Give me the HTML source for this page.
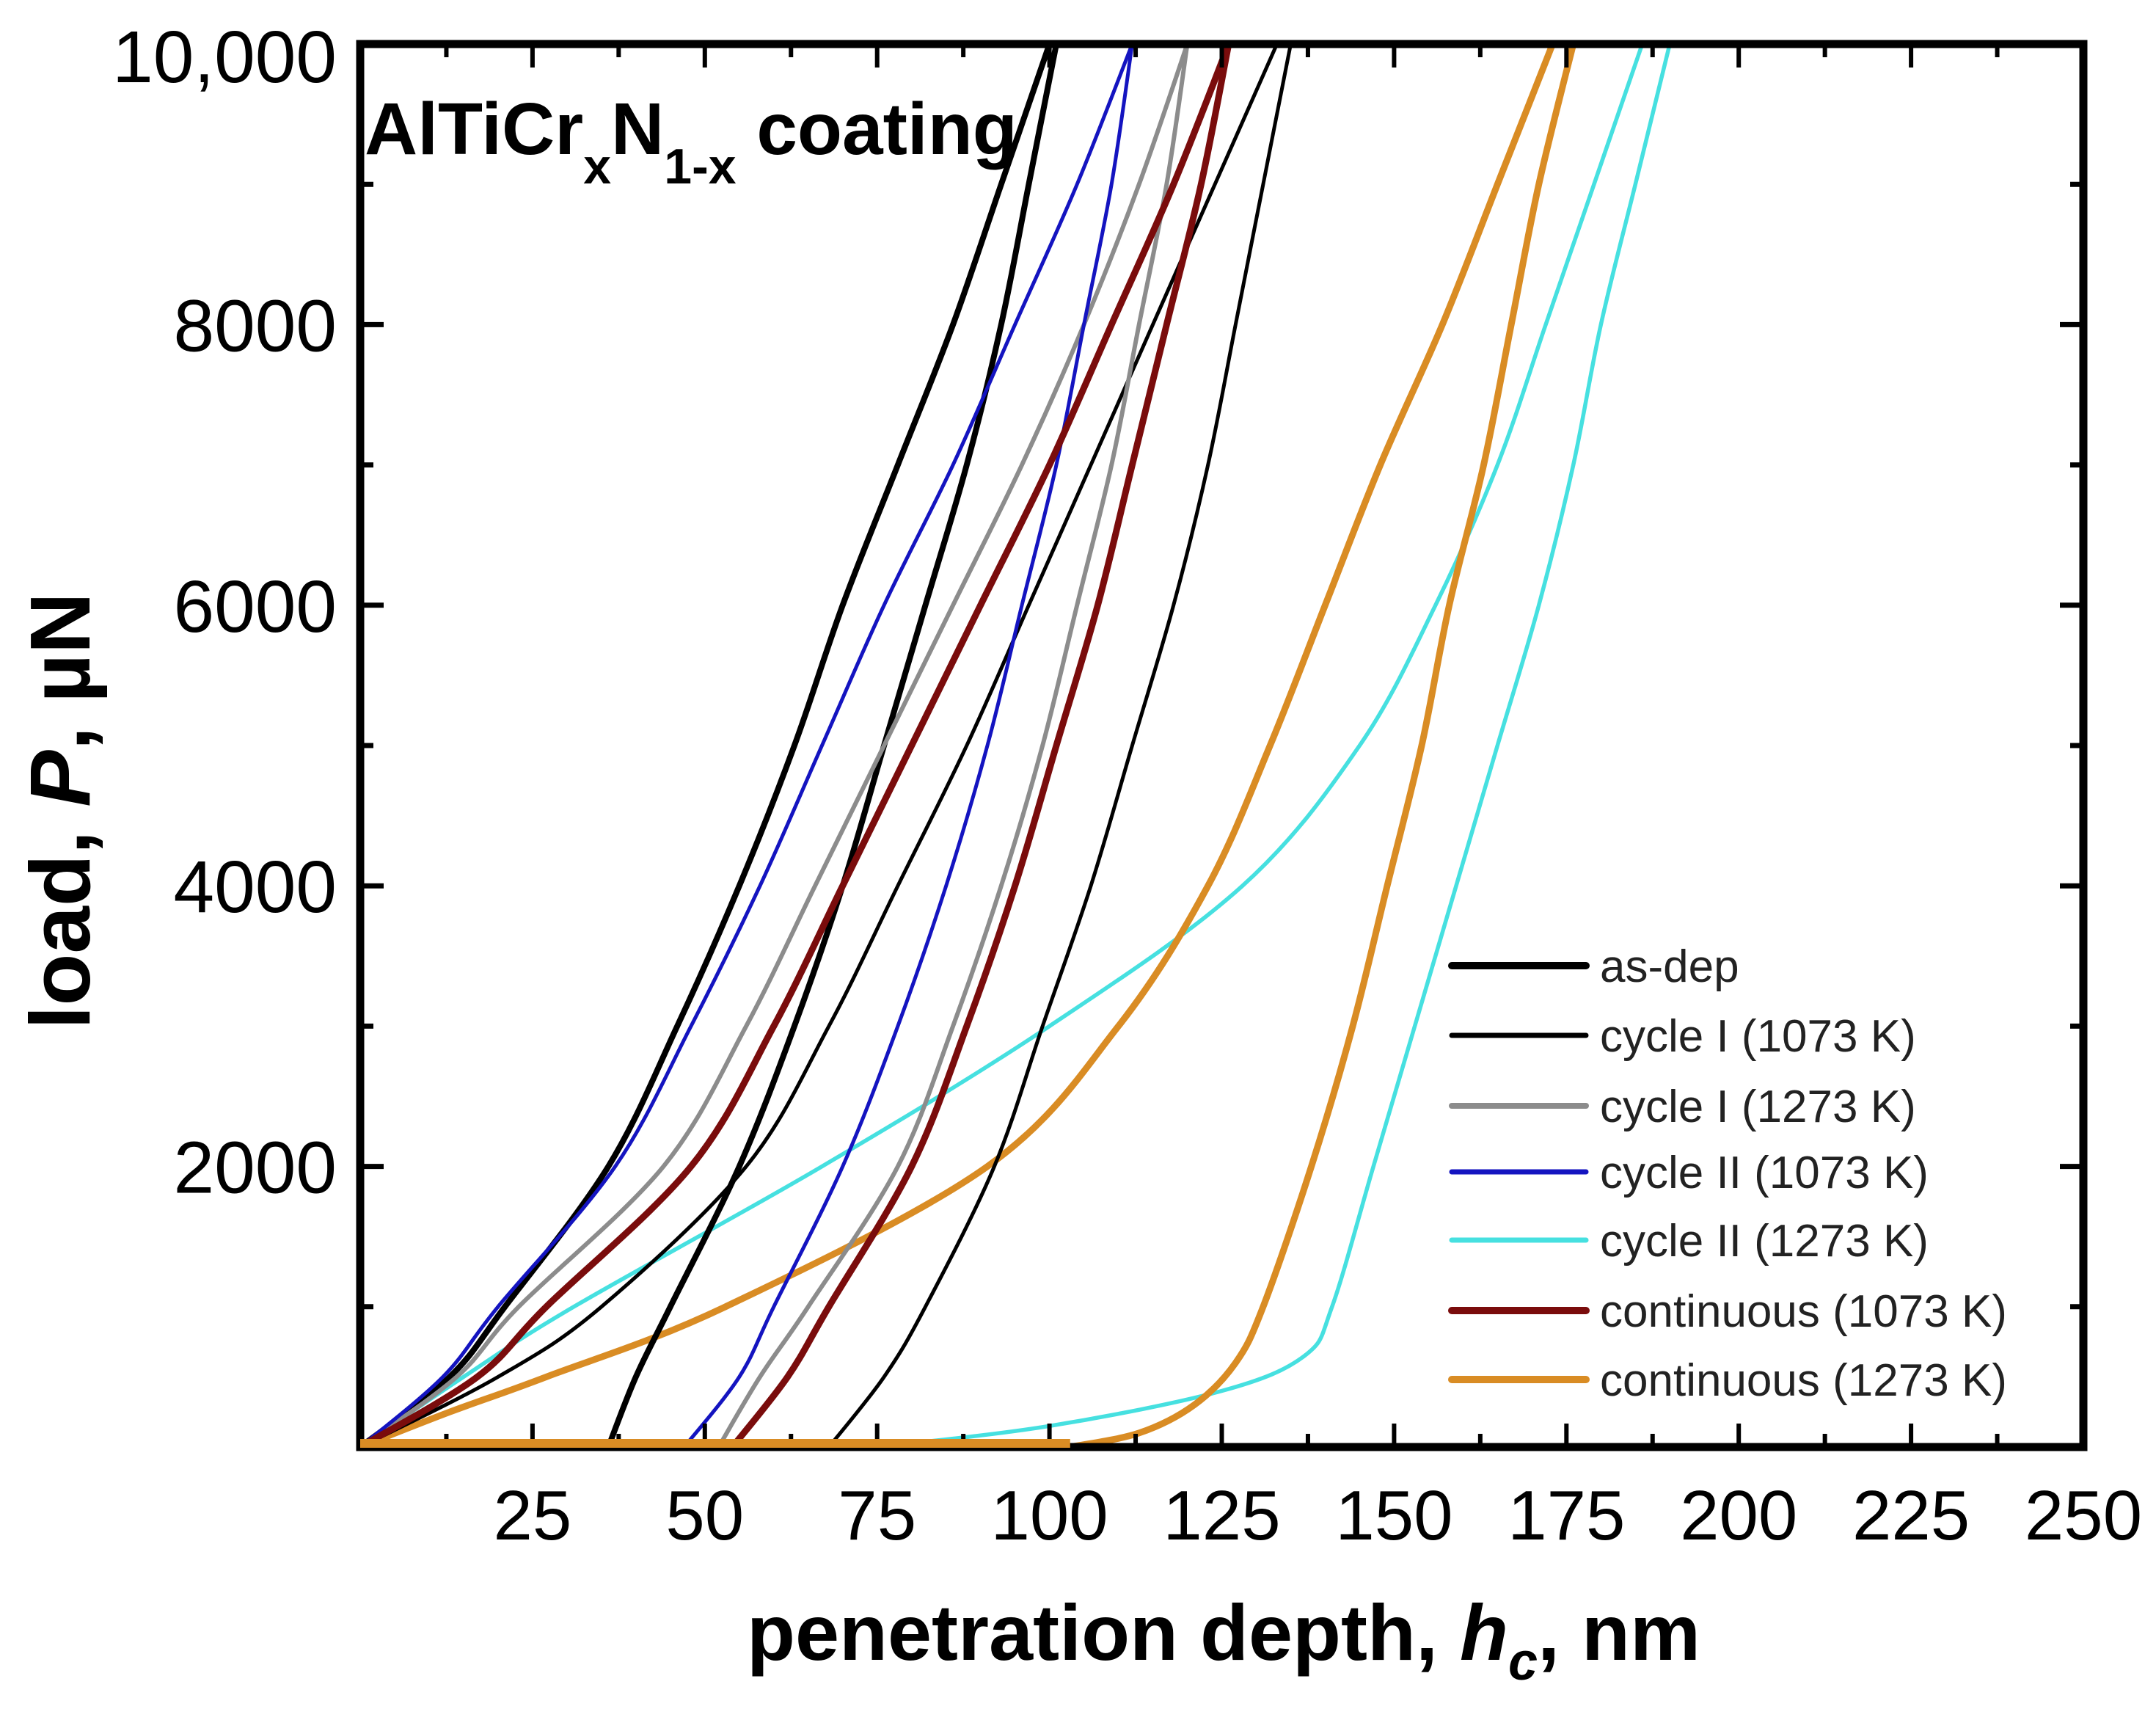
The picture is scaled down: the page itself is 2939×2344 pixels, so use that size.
<!DOCTYPE html>
<html><head><meta charset="utf-8"><style>
html,body{margin:0;padding:0;background:#fff;}
svg{display:block;font-family:"Liberation Sans",Arial,sans-serif;}
</style></head><body>
<svg id="chart" width="2939" height="2344" viewBox="0 0 2939 2344" xmlns="http://www.w3.org/2000/svg">
<rect x="0" y="0" width="2939" height="2344" fill="#fff"/>
<g id="series"></g>
<g id="ticks"></g>
<rect x="491" y="60" width="2349" height="1912" fill="none" stroke="#000" stroke-width="11"/>
<g id="overlay"></g>
<g id="labels" font-size="100" fill="#000"></g>
<text x="497" y="210" font-size="100" font-weight="bold">AlTiCr<tspan font-size="68" dy="40">x</tspan><tspan dy="-40">N</tspan><tspan font-size="68" dy="40">1-x</tspan><tspan dy="-40"> coating</tspan></text>
<text x="1668" y="2262" font-size="108" font-weight="bold" text-anchor="middle">penetration depth, <tspan font-style="italic">h</tspan><tspan font-size="72" dy="27" font-style="italic">c</tspan><tspan dy="-27">, nm</tspan></text>
<text transform="translate(122,1105) rotate(-90)" font-size="116" font-weight="bold" text-anchor="middle">load, <tspan font-style="italic">P</tspan>, µN</text>
<g id="legend"></g>
</svg>
<script>
const NS="http://www.w3.org/2000/svg";
const xTicks=[25,50,75,100,125,150,175,200,225,250];
const yTicks=[2000,4000,6000,8000,10000];
const yTickLabels=["2000","4000","6000","8000","10,000"];
const seriesNames=["as-dep","cycle I (1073 K)","cycle I (1273 K)","cycle II (1073 K)","cycle II (1273 K)","continuous (1073 K)","continuous (1273 K)"];
const seriesColors=["#000000","#000000","#8c8c8c","#1414c0","#46e0e0","#7a0c0c","#d98c24"];
const seriesWidths=[8,5,6,5,5.5,9,9];
const P12=[0,500,1000,2000,3000,4000,5000,6000,7000,8000,9000,10000];
// as-dep
const asDepLoadH=[0,13,21,36,46,55,63,70,78,86,93,100];
const asDepUnloadH=[36,40,45,55,63,70,76,82,88,93,97,101];
// cycle I 1073
const c1aLoadH=[0,20,35,56,68,78,88,97,106,115,124,133];
const c1aUnloadH=[68,76,82,92,99,106,112,118,123,127,131,135];
// cycle I 1273
const c1bLoadH=[0,14,23,44,56,66,76,86,96,105,113,120];
const c1bUnloadH=[52,58,65,78,86,93,99,104,109,113,117,120];
// cycle II 1073
const c2aLoadH=[0,12,20,37,48,58,67,76,86,95,104,112];
const c2aUnloadH=[47,55,60,70,78,85,91,96,101,105,109,112];
// cycle II 1273
const c2bLoadH=[0,15,31,67,100,128,145,156,165,172,179,186];
const c2bUnloadH=[75,100,125,137,141,147,153,159,165,171,176,180,185,190];
const c2bUnloadP=[0,150,400,650,1000,2000,3000,4000,5000,6000,7000,8000,9000,10000];
// continuous 1073
const ctaLoadH=[0,17,27,48,60,70,80,90,100,109,118,126];
const ctaUnloadH=[54,62,68,80,88,95,101,107,112,117,122,126];
// continuous 1273
const ctbLoadH=[0,13,27,53,91,110,123,132,140,148,157,165,173];
const ctbLoadP=[0,250,500,1000,2000,3000,4000,5000,6000,7000,8000,9000,10000];
const ctbUnloadH=[103,113,121,127,131,138,144,149,154,158,163,167,171,176];
const ctbUnloadP=[0,100,300,600,1000,2000,3000,4000,5000,6000,7000,8000,9000,10000];
const ctbBaselineH=[0,103];

const X0=491,X1=2840,Y0=1972,Y1=60;
function sx(h){return X0+(h/250)*(X1-X0);}
function sy(p){return Y0-(p/10000)*(Y0-Y1);}

const curves=[
 [asDepLoadH,P12,asDepUnloadH,P12],
 [c1aLoadH,P12,c1aUnloadH,P12],
 [c1bLoadH,P12,c1bUnloadH,P12],
 [c2aLoadH,P12,c2aUnloadH,P12],
 [c2bLoadH,P12,c2bUnloadH,c2bUnloadP],
 [ctaLoadH,P12,ctaUnloadH,P12],
 [ctbLoadH,ctbLoadP,ctbUnloadH,ctbUnloadP]
];
const order=[4,6,1,0,2,3,5];
const sg=document.getElementById('series');
function makePath(hs,ps){
  const pts=hs.map((h,i)=>[sx(h),sy(ps[i])]);
  let d="M"+pts[0][0].toFixed(1)+","+pts[0][1].toFixed(1);
  for(let i=0;i<pts.length-1;i++){
    const p0=pts[Math.max(0,i-1)],p1=pts[i],p2=pts[i+1],p3=pts[Math.min(pts.length-1,i+2)];
    const c1=[p1[0]+(p2[0]-p0[0])/6,p1[1]+(p2[1]-p0[1])/6];
    const c2=[p2[0]-(p3[0]-p1[0])/6,p2[1]-(p3[1]-p1[1])/6];
    d+="C"+c1[0].toFixed(1)+","+c1[1].toFixed(1)+" "+c2[0].toFixed(1)+","+c2[1].toFixed(1)+" "+p2[0].toFixed(1)+","+p2[1].toFixed(1);
  }
  return d;
}
order.forEach(i=>{
  const c=curves[i];
  ["load","unload"].forEach((kind,k)=>{
    const p=document.createElementNS(NS,"path");
    p.setAttribute("d",makePath(c[k*2],c[k*2+1]));
    p.setAttribute("fill","none");
    p.setAttribute("stroke",seriesColors[i]);
    p.setAttribute("stroke-width",seriesWidths[i]);
    p.setAttribute("stroke-linejoin","round");
    
    
    sg.appendChild(p);
  });
});
const ov=document.getElementById('overlay');
const bl=document.createElementNS(NS,"line");
bl.setAttribute("x1",sx(ctbBaselineH[0]));bl.setAttribute("x2",sx(ctbBaselineH[1]));
bl.setAttribute("y1",Y0-5);bl.setAttribute("y2",Y0-5);
bl.setAttribute("stroke","#d98c24");bl.setAttribute("stroke-width",12);


ov.appendChild(bl);

const tg=document.getElementById('ticks');
function line(x1,y1,x2,y2,w){
  const l=document.createElementNS(NS,"line");
  l.setAttribute("x1",x1);l.setAttribute("y1",y1);l.setAttribute("x2",x2);l.setAttribute("y2",y2);
  l.setAttribute("stroke","#000");l.setAttribute("stroke-width",w);
  
  
  tg.appendChild(l);
}
for(let h=12.5;h<250;h+=12.5){
  const major=(h%25===0);const len=major?32:18;
  line(sx(h),Y0,sx(h),Y0-len,6);line(sx(h),Y1,sx(h),Y1+len,6);
}
for(let p=1000;p<10000;p+=1000){
  const major=(p%2000===0);const len=major?32:18;
  line(X0,sy(p),X0+len,sy(p),7);line(X1,sy(p),X1-len,sy(p),7);
}
const lg=document.getElementById('labels');
xTicks.forEach(v=>{
  const t=document.createElementNS(NS,"text");
  t.setAttribute("x",sx(v));t.setAttribute("y",2098);t.setAttribute("text-anchor","middle");t.setAttribute("font-size","96");
  t.textContent=String(v);
  
  
  lg.appendChild(t);
});
yTicks.forEach((v,i)=>{
  const t=document.createElementNS(NS,"text");
  t.setAttribute("x",459);
  t.setAttribute("y",(v===10000?76:sy(v))+36);
  t.setAttribute("text-anchor","end");
  t.textContent=yTickLabels[i];
  
  
  lg.appendChild(t);
});
const leg=document.getElementById('legend');
const legY=[1316,1411,1507,1597,1690,1786,1880];
const legW=[10,7,8,7,7,10,10];
seriesNames.forEach((n,i)=>{
  const l=document.createElementNS(NS,"line");
  l.setAttribute("x1",1979);l.setAttribute("x2",2162);l.setAttribute("y1",legY[i]);l.setAttribute("y2",legY[i]);
  l.setAttribute("stroke",seriesColors[i]);l.setAttribute("stroke-width",legW[i]);l.setAttribute("stroke-linecap","round");
  
  
  leg.appendChild(l);
  const t=document.createElementNS(NS,"text");
  t.setAttribute("x",2181);t.setAttribute("y",legY[i]+22);t.setAttribute("font-size","62");t.setAttribute("fill","#222");
  t.textContent=n;
  
  
  leg.appendChild(t);
});
</script>
</body></html>
